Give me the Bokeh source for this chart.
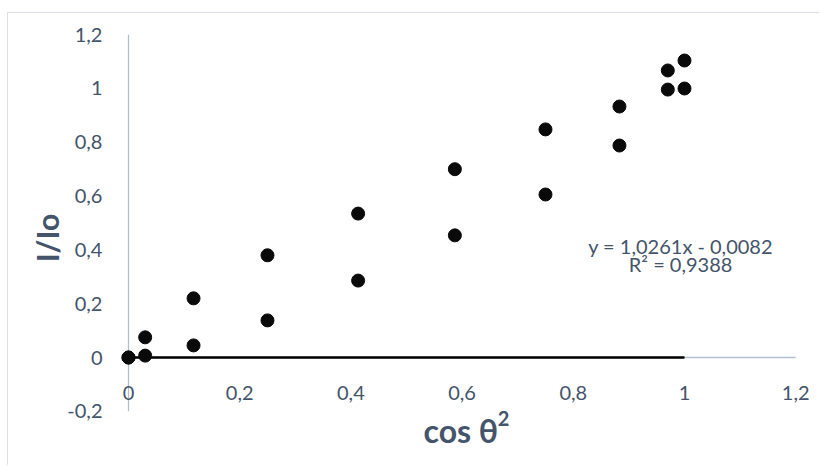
from bokeh.plotting import figure
from bokeh.models import Range1d, FixedTicker, Label, ColumnDataSource
from bokeh.embed import file_html
from bokeh.resources import INLINE
import math

# ---- data ----
cos_sq = [0.000, 0.030, 0.117, 0.250, 0.413, 0.587, 0.750, 0.883, 0.970, 1.000]
ratio_a = [0.000, 0.075, 0.220, 0.380, 0.535, 0.700, 0.848, 0.933, 1.067, 1.104]
ratio_b = [0.000, 0.007, 0.045, 0.138, 0.286, 0.454, 0.606, 0.788, 0.996, 1.000]

base_x = [0.0, 1.0]
base_y = [0.0, 0.0]

x_ticks = [0.0, 0.2, 0.4, 0.6, 0.8, 1.0, 1.2]
x_tick_labels = ["0", "0,2", "0,4", "0,6", "0,8", "1", "1,2"]
y_ticks = [-0.2, 0.0, 0.2, 0.4, 0.6, 0.8, 1.0, 1.2]
y_tick_labels = ["-0,2", "0", "0,2", "0,4", "0,6", "0,8", "1", "1,2"]

trend_eq = "y = 1,0261x - 0,0082"
trend_r2 = "R\u00b2 = 0,9388"
x_title = "cos \u03b8"
x_title_sup = "2"
y_title = "I/Io"

TEXT = "#44546A"
AXIS = "#B4BFCE"
FONT = "Lato"

p = figure(
    width=812, height=453,
    min_border=0,
    x_range=Range1d(-0.2158, 1.2446), y_range=Range1d(-0.4052, 1.2788),
    output_backend="svg", toolbar_location=None,
)
p.styles = {
    "margin-left": "7px", "margin-top": "12px",
    "border-left": "1px solid #DCDFEA", "border-top": "1px solid #DCDFEA",
}
p.outline_line_color = None
p.xgrid.visible = False
p.ygrid.visible = False

for ax, ticks, labels in ((p.xaxis[0], x_ticks, x_tick_labels), (p.yaxis[0], y_ticks, y_tick_labels)):
    ax.ticker = FixedTicker(ticks=ticks)
    ax.major_label_overrides = {t: l for t, l in zip(ticks, labels)}
    ax.fixed_location = 0
    ax.axis_line_color = None
    ax.major_tick_line_color = None
    ax.minor_tick_line_color = None
    ax.major_label_text_color = TEXT
    ax.major_label_text_font = FONT
    ax.major_label_text_font_size = "20px"

p.xaxis.major_label_standoff = 22
p.yaxis.major_label_standoff = 20

# axis lines spanning the tick range only (Excel style)
p.segment(x0=[x_ticks[0]], y0=[0.0], x1=[x_ticks[-1]], y1=[0.0], line_color=AXIS, line_width=1.3)
p.segment(x0=[0.0], y0=[y_ticks[0]], x1=[0.0], y1=[y_ticks[-1]], line_color=AXIS, line_width=1.3)

# black line along y = 0
p.line(base_x, base_y, line_color="#000000", line_width=2.5)

src = ColumnDataSource(dict(x=cos_sq + cos_sq, y=ratio_a + ratio_b))
p.scatter("x", "y", source=src, size=13, fill_color="#0A0A0A", line_color="#0A0A0A")

p.add_layout(Label(x=0.993, y=0.413, text=trend_eq, text_align="center",
                   text_baseline="alphabetic", text_color=TEXT,
                   text_font=FONT, text_font_size="20px"))
p.add_layout(Label(x=0.993, y=0.346, text=trend_r2, text_align="center",
                   text_baseline="alphabetic", text_color=TEXT,
                   text_font=FONT, text_font_size="20px"))

p.add_layout(Label(x=0.5306, y=-0.271, text=x_title,
                   text_align="left", text_baseline="alphabetic", text_color=TEXT,
                   text_font=FONT, text_font_size="32px", text_font_style="bold"))
p.add_layout(Label(x=0.664, y=-0.226, text=x_title_sup,
                   text_align="left", text_baseline="alphabetic", text_color=TEXT,
                   text_font=FONT, text_font_size="20px", text_font_style="bold"))
p.add_layout(Label(x=-0.146, y=0.444, text=y_title,
                   angle=math.pi / 2, text_align="center", text_baseline="middle",
                   text_color=TEXT, text_font=FONT, text_font_size="30px",
                   text_font_style="bold"))

open("out.html", "w").write(file_html(p, INLINE))
